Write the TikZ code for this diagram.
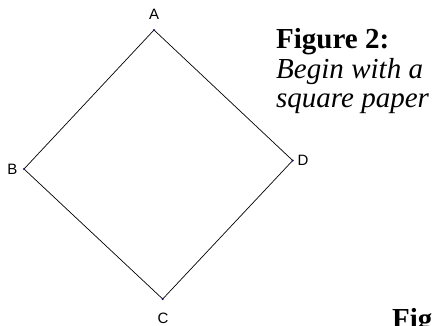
\documentclass[tikz,border=0pt]{standalone}
\usepackage{fontspec}
\setmainfont{Liberation Serif}
\newfontfamily\labelfont{Liberation Sans}
\definecolor{navy}{RGB}{20,20,110}
\tikzset{
  vlabel/.style={font=\labelfont\fontsize{15}{17}\selectfont, inner sep=0pt},
  caption/.style={anchor=base west, inner sep=0pt, font=\fontsize{29}{32}\selectfont}
}
\begin{document}
\begin{tikzpicture}[x=1pt, y=-1pt]
\useasboundingbox (0,0) rectangle (433,325);

% Corners
\coordinate (A) at (154,30);
\coordinate (B) at (24,169);
\coordinate (C) at (162.7,299);
\coordinate (D) at (292.7,160.5);

% Square
\draw[line width=0.7pt] (A) -- (D) -- (C) -- (B) -- cycle;
\foreach \p in {A,B,C,D} \fill[navy] (\p) circle (1.2pt);

% Labels
\node[vlabel] (labA) at (154,14) {A};
\node[vlabel] (labB) at (12.5,169) {B};
\node[vlabel] (labC) at (163,318.5) {C};
\node[vlabel] (labD) at (303,160) {D};

% Caption
\node[caption] (title) at (276,48) {\bfseries Figure 2:};
\node[caption] (line1) at (276,78) {\makebox[147pt][s]{\itshape Begin with a}};
\node[caption] (line2) at (276,107) {\itshape square paper};
\node[caption] (fig) at (392,328) {\bfseries Fig};

\end{tikzpicture}
\end{document}
